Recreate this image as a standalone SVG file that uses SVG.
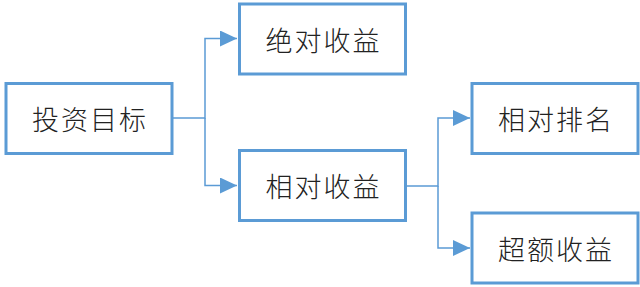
<svg xmlns="http://www.w3.org/2000/svg" width="640" height="287" viewBox="0 0 640 287">
<style>
.box{fill:#fff;stroke:#5b9bd5;stroke-width:3}
.lbl{font-family:"Noto Sans CJK SC","Noto Sans",sans-serif;font-size:27px;font-weight:300;fill:#222;text-anchor:middle;dominant-baseline:central;letter-spacing:2px}
.conn{fill:none;stroke:#5b9bd5;stroke-width:1.5}
</style>
<defs>
<marker id="arr" markerUnits="userSpaceOnUse" markerWidth="18" markerHeight="16" refX="17" refY="8" orient="auto">
<path d="M0,0 L17,8 L0,16 Z" fill="#5b9bd5"/>
</marker>
</defs>
<g id="connectors">
<path class="conn" d="M172,118 H205 V38.5 H237" marker-end="url(#arr)"/>
<path class="conn" d="M205,118 V185.5 H237" marker-end="url(#arr)"/>
<path class="conn" d="M405,186 H438 V118 H470" marker-end="url(#arr)"/>
<path class="conn" d="M438,186 V248 H470" marker-end="url(#arr)"/>
</g>
<g id="n1"><rect class="box" x="6" y="83.5" width="166" height="70"/><text class="lbl" x="90" y="118.5">投资目标</text></g>
<g id="n2"><rect class="box" x="239.5" y="4" width="166" height="70"/><text class="lbl" x="323.5" y="39">绝对收益</text></g>
<g id="n3"><rect class="box" x="239.5" y="150.5" width="166" height="70"/><text class="lbl" x="323.5" y="185.5">相对收益</text></g>
<g id="n4"><rect class="box" x="472" y="83.5" width="166" height="70"/><text class="lbl" x="556" y="118.5">相对排名</text></g>
<g id="n5"><rect class="box" x="472" y="213" width="166" height="70"/><text class="lbl" x="556" y="248">超额收益</text></g>
</svg>
